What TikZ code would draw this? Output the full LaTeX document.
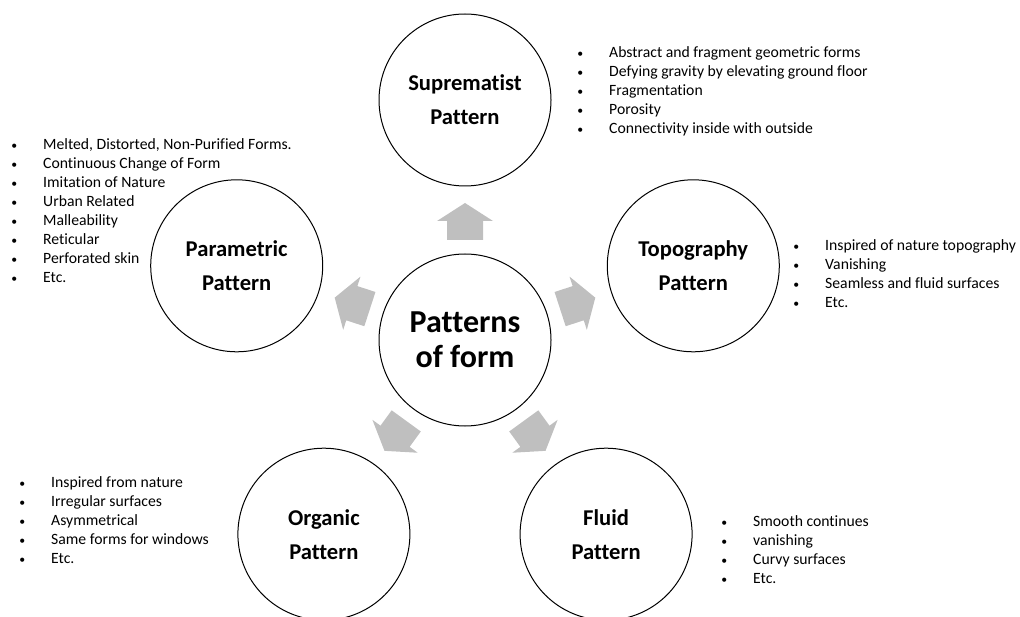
\documentclass[tikz,border=0pt]{standalone}
\usepackage{fontspec}
\setmainfont{Carlito}[Ligatures=NoCommon]
\usetikzlibrary{calc}
\definecolor{arrowgray}{RGB}{191,191,191}
\newcommand\bul{\strut\makebox[29pt][l]{\makebox[0pt]{\scalebox{0.75}{\textbullet}}}}

\begin{document}
\begin{tikzpicture}[x=1pt, y=1pt,
  patt/.style={draw, circle, line width=1pt, minimum size=172pt, inner sep=0pt, align=center, font=\fontsize{22.6}{34}\selectfont\bfseries},
  hub/.style={patt, font=\fontsize{32}{35}\selectfont\bfseries},
  blockarrow/.style={fill=arrowgray},
  notes/.style={anchor=north west, inner sep=0pt, align=left, font=\fontsize{15.7}{18.9}\selectfont}]
  \useasboundingbox (0,0) rectangle (1020,-617);
  \node [hub] (c) at (465,-340) {Patterns\\of form};
  \node [patt] (sup) at (465,-100) {Suprematist\\Pattern};
  \node [patt] (top) at (693.3,-265.8) {Topography\\Pattern};
  \node [patt] (par) at (236.7,-265.8) {Parametric\\Pattern};
  \node [patt] (org) at (323.9,-534.2) {Organic\\Pattern};
  \node [patt] (flu) at (606.1,-534.2) {Fluid\\Pattern};
  % block arrows from the hub outwards
  \foreach \n/\a in {sup/90, top/18, par/162, org/234, flu/306}
    \fill [blockarrow, shift={(c.center)}, rotate=\a] (100,-18) -- (119,-18) -- (119,-28) -- (137,0) -- (119,28) -- (119,18) -- (100,18) -- cycle;
  % notes beside each pattern
  \node [notes] (supnotes) at (580,-44.5) {\bul Abstract and fragment geometric forms\\\bul Defying gravity by elevating ground floor\\\bul Fragmentation\\\bul Porosity\\\bul Connectivity inside with outside};
  \node [notes] (parnotes) at (14,-136.5) {\bul Melted, Distorted, Non-Purified Forms.\\\bul Continuous Change of Form\\\bul Imitation of Nature\\\bul Urban Related\\\bul Malleability\\\bul Reticular\\\bul Perforated skin\\\bul Etc.};
  \node [notes] (topnotes) at (796,-237.5) {\bul Inspired of nature topography\\\bul Vanishing\\\bul Seamless and fluid surfaces\\\bul Etc.};
  \node [notes] (orgnotes) at (22,-474.5) {\bul Inspired from nature\\\bul Irregular surfaces\\\bul Asymmetrical\\\bul Same forms for windows\\\bul Etc.};
  \node [notes] (flunotes) at (724,-513.5) {\bul Smooth continues\\\bul vanishing\\\bul Curvy surfaces\\\bul Etc.};
\end{tikzpicture}
\end{document}
